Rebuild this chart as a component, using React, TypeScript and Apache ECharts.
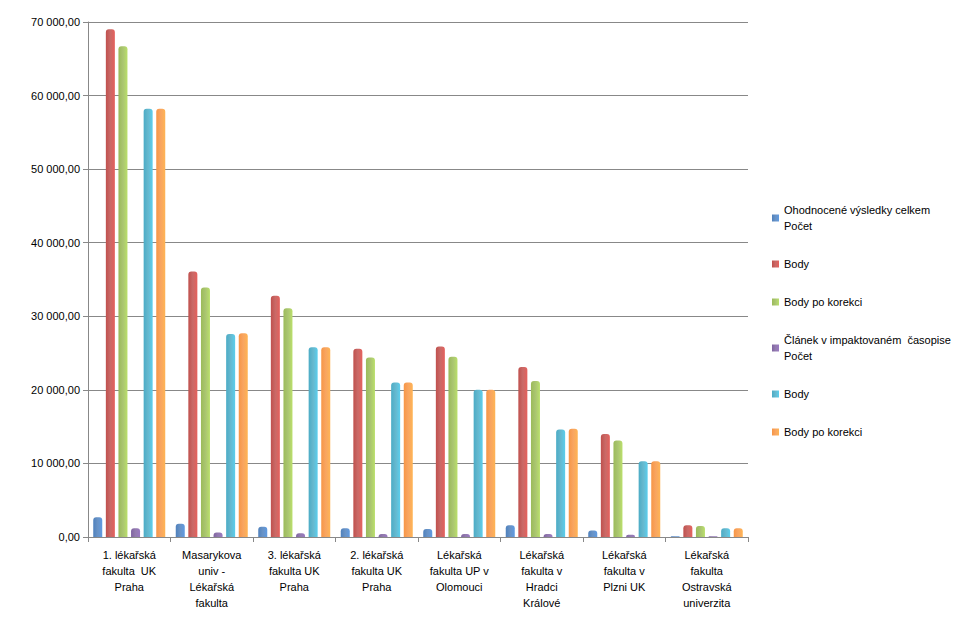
import React, { useEffect, useRef } from "react";
import * as echarts from "echarts";

const categories = [
  "1. lékařská\nfakulta  UK\nPraha",
  "Masarykova\nuniv -\nLékařská\nfakulta",
  "3. lékařská\nfakulta UK\nPraha",
  "2. lékařská\nfakulta UK\nPraha",
  "Lékařská\nfakulta UP v\nOlomouci",
  "Lékařská\nfakulta v\nHradci\nKrálové",
  "Lékařská\nfakulta v\nPlzni UK",
  "Lékařská\nfakulta\nOstravská\nuniverzita",
];
const seriesNames = [
  "Ohodnocené výsledky celkem\nPočet",
  "Body",
  "Body po korekci",
  "Článek v impaktovaném  časopise\nPočet",
  "Body ",
  "Body po korekci ",
];
const colors = ["#4f81bd", "#c0504d", "#9bbb59", "#8064a2", "#4bacc6", "#f79646"];
const s1 = [2700, 1800, 1400, 1200, 1100, 1600, 900, 100];
const s2 = [69000, 36100, 32800, 25600, 25900, 23100, 14000, 1600];
const s3 = [66700, 33900, 31100, 24400, 24500, 21200, 13100, 1500];
const s4 = [1200, 600, 500, 400, 400, 400, 300, 100];
const s5 = [58200, 27600, 25800, 21000, 20000, 14600, 10300, 1200];
const s6 = [58200, 27700, 25800, 21000, 20000, 14700, 10300, 1200];
const allData = [s1, s2, s3, s4, s5, s6];

const fmt = (v: number) => {
  const s = Math.round(v).toString().replace(/\B(?=(\d{3})+(?!\d))/g, " ");
  return s + ",00";
};

export default function App() {
  const ref = useRef<HTMLDivElement>(null);
  useEffect(() => {
    const chart = echarts.init(ref.current!, null, { renderer: "svg" });
    chart.setOption({
      animation: false,
      textStyle: { fontFamily: "Liberation Sans, Arial, sans-serif" },
      grid: { left: 88, top: 22, width: 660, height: 515 },
      legend: {
        orient: "vertical",
        left: 767,
        top: 197,
        itemWidth: 7,
        itemHeight: 7,
        itemGap: 22,
        icon: "rect",
        textStyle: { fontSize: 11, color: "#000", lineHeight: 16 },
        data: seriesNames,
      },
      xAxis: {
        type: "category",
        data: categories,
        axisLine: { lineStyle: { color: "#888" } },
        axisTick: { show: true, lineStyle: { color: "#888" } },
        axisLabel: { interval: 0, fontSize: 11, color: "#000", lineHeight: 16, margin: 10 },
      },
      yAxis: {
        type: "value",
        min: 0,
        max: 70000,
        interval: 10000,
        axisLine: { show: true, lineStyle: { color: "#888" } },
        axisTick: { show: true, lineStyle: { color: "#888" } },
        splitLine: { lineStyle: { color: "#888" } },
        axisLabel: { fontSize: 11, color: "#000", formatter: fmt },
      },
      series: allData.map((d, i) => ({
        type: "bar",
        name: seriesNames[i],
        data: d,
        barWidth: 9,
        barGap: "40%",
        barCategoryGap: "20%",
        itemStyle: {
          color: new echarts.graphic.LinearGradient(0, 0, 1, 0, [
            { offset: 0, color: colors[i] },
            { offset: 0.5, color: echarts.color.lift(colors[i], 0.15) },
            { offset: 1, color: echarts.color.lift(colors[i], -0.2) },
          ]),
          borderRadius: [3, 3, 0, 0],
        },
      })),
      color: colors,
      graphic: [
        {
          type: "rect",
          shape: { x: 0.5, y: 0.5, width: 978, height: 633 },
          style: { fill: "none", stroke: "#888", lineWidth: 1 },
        },
      ],
    });
    return () => chart.dispose();
  }, []);
  return <div ref={ref} style={{ width: 980, height: 635, margin: -8 }} />;
}
